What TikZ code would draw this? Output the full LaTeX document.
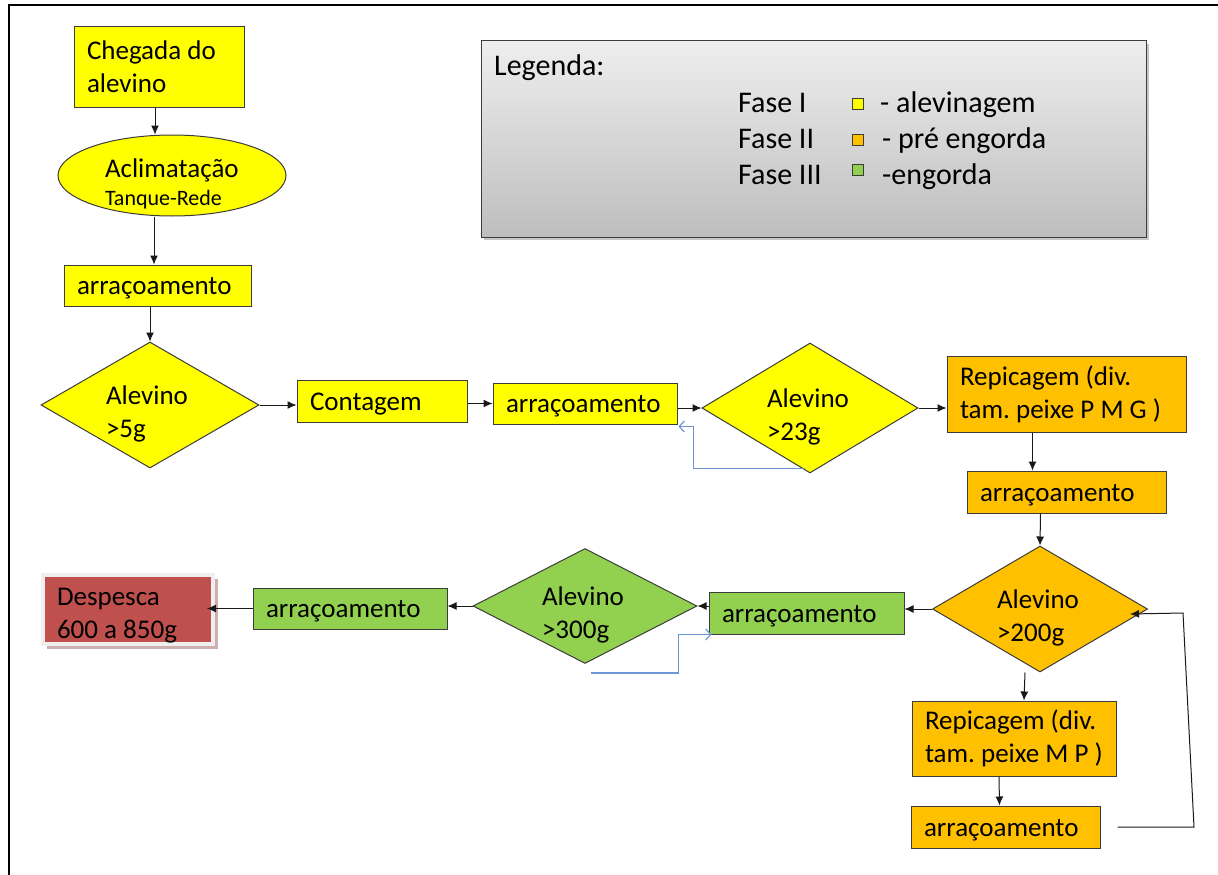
\documentclass[tikz,border=0pt]{standalone}
\usepackage{fontspec}
\setmainfont{Carlito}
\usetikzlibrary{shapes.geometric,arrows.meta,calc}
\definecolor{cyel}{RGB}{255,255,0}
\definecolor{corg}{RGB}{255,192,0}
\definecolor{cgrn}{RGB}{146,208,80}
\definecolor{cred}{RGB}{192,80,77}
\definecolor{cblu}{RGB}{110,150,210}
\definecolor{cbrd}{RGB}{60,60,60}
\definecolor{legtop}{RGB}{238,238,238}
\definecolor{legbot}{RGB}{190,190,190}
\definecolor{despshadow}{RGB}{205,175,175}
\definecolor{despedge}{RGB}{240,238,238}
\newcommand{\dnshift}[1]{\rule{0pt}{#1}}
\frenchspacing
\begin{document}
\begin{tikzpicture}[x=1pt,y=-1pt,
  base/.style={draw=cbrd, line width=1pt, font=\fontsize{27pt}{33pt}\selectfont, text=black,
    execute at begin node={\frenchspacing\spaceskip=0pt\xspaceskip=0pt\relax}},
  box/.style={base, rectangle, inner xsep=13pt, inner ysep=0pt, align=left},
  one/.style={text height=23pt, text depth=5pt},
  dia/.style={base, diamond, inner sep=-20pt, align=left},
  arr/.style={draw=black!90, line width=1pt, -{Latex[length=9pt,width=8pt]}},
  fb/.style={draw=cblu, line width=1.2pt, -{Straight Barb[length=5pt,width=11pt]}},
  legtext/.style={font=\fontsize{30pt}{36pt}\selectfont, text=black, inner sep=0pt, anchor=base west},
  sq/.style={rectangle, draw=cbrd, line width=0.8pt, minimum size=11pt, inner sep=0pt},
]
\useasboundingbox (0,0) rectangle (1218,875);
\fill[white] (0,0) rectangle (1218,875);
% frame
\draw[line width=2.5pt] (9,875) -- (9,5) -- (1218,5);

% legend
\fill[black!22] (484,44) rectangle (1149,240);
\node[draw=cbrd, line width=1pt, top color=legtop, bottom color=legbot, minimum width=665pt, minimum height=196pt, inner sep=0pt] (legend) at (813.5,139) {};
\node[legtext] (lgt) at (494,76) {Legenda:};
\node[legtext] (f1) at (738,112) {Fase I};
\node[legtext] (f2) at (738,148) {Fase II};
\node[legtext] (f3) at (738,184) {Fase III};
\node[sq, fill=cyel] (s1) at (858,104) {};
\node[sq, fill=corg] (s2) at (858,140) {};
\node[sq, fill=cgrn] (s3) at (858,170) {};
\node[legtext] (t1) at (880,112) {- alevinagem};
\node[legtext] (t2) at (882,148) {- pré engorda};
\node[legtext] (t3) at (882,184) {-engorda};

% column 1
\node[box, fill=cyel, text width=144pt, minimum height=80pt] (chegada) at (159,67) {Chegada do\\alevino};
\node[base, ellipse, fill=cyel, minimum width=228pt, minimum height=81pt, inner sep=-20pt, text width=134pt, align=left] (aclim) at (172,175.5)
  {\dnshift{36pt}Aclimatação\\[-5pt]{\fontsize{22pt}{27pt}\selectfont Tanque-Rede}};
\node[box, one, fill=cyel, text width=161pt, minimum height=41pt] (arr1) at (157.5,285.5) {arraçoamento};
\node[dia, fill=cyel, minimum width=218pt, minimum height=126pt, text width=88pt] (d1) at (150,405) {\dnshift{36pt}Alevino\\>5g};

% row 2
\node[box, one, fill=cyel, text width=144pt, minimum height=42pt] (contagem) at (382,401) {Contagem};
\node[box, one, fill=cyel, text width=158pt, minimum height=41pt] (arr2) at (585,403.5) {arraçoamento};
\node[dia, fill=cyel, minimum width=216pt, minimum height=130pt, text width=86pt] (d2) at (810,408) {\dnshift{36pt}Alevino\\>23g};
\node[box, fill=corg, text width=213pt, minimum height=76pt] (rep1) at (1066.5,394) {Repicagem (div.\\tam. peixe P M G )};
\node[box, one, fill=corg, text width=173pt, minimum height=42pt] (arr3) at (1066.5,492) {arraçoamento};

% row 3
\node[dia, fill=corg, minimum width=215pt, minimum height=126pt, text width=86pt] (d3) at (1040,609) {\dnshift{36pt}Alevino\\>200g};
\node[box, one, fill=cgrn, text width=169pt, minimum height=42pt] (arr4) at (806.5,613) {arraçoamento};
\node[dia, fill=cgrn, minimum width=224pt, minimum height=115pt, text width=86pt] (d4) at (585,606) {\dnshift{36pt}Alevino\\>300g};
\node[box, one, fill=cgrn, text width=168pt, minimum height=41pt] (arr6) at (350,608.5) {arraçoamento};
\fill[despshadow] (47,579) rectangle (218,649);
\node[box, fill=cred, draw=despedge, line width=4pt, text width=142pt, inner xsep=14pt, minimum height=69pt] (desp) at (128,609.5) {\dnshift{29pt}Despesca\\600 a 850g};

% bottom right
\node[box, fill=corg, text width=178pt, minimum height=75pt] (rep2) at (1014,738.5) {Repicagem (div.\\tam. peixe M P )};
\node[box, one, fill=corg, text width=163pt, minimum height=42pt] (arr5) at (1005.5,827) {arraçoamento};

% connectors
\coordinate (despin) at ([xshift=-8pt]desp.east);
\coordinate (lpA) at (1194,827);
\coordinate (lpB) at (1183,613);
\draw[arr] ([xshift=-4pt]chegada.south) -- ([xshift=-17pt]aclim.north);
\draw[arr] ([xshift=-18pt]aclim.south) -- ([xshift=-3.5pt]arr1.north);
\draw[arr] ([xshift=-7.5pt]arr1.south) -- (d1.north);
\draw[arr] (d1.east) -- (d1.east -| contagem.west);
\draw[arr] (arr2.west -| contagem.east) -- (arr2.west);
\draw[arr] (d2.west -| arr2.east) -- (d2.west);
\draw[arr] (d2.east) -- (d2.east -| rep1.west);
\draw[arr] ([xshift=-34pt]rep1.south) -- ([xshift=-34pt]arr3.north);
\draw[arr] ([xshift=-26pt]arr3.south) -- (d3.north);
\draw[arr] (d3.west) -- (d3.west -| arr4.east);
\draw[arr] (d4.east -| arr4.west) -- (d4.east);
\draw[arr] (d4.west) -- (d4.west -| arr6.east);
\draw[arr] (arr6.west) -- (arr6.west -| despin);
\draw[arr] ([xshift=-15pt]d3.south) -- ([xshift=10pt]rep2.north);
\draw[arr] ([xshift=-15pt]rep2.south) -- ([xshift=-6pt]arr5.north);
\draw[arr] ([xshift=17pt]arr5.east) -- (lpA) -- (lpB) -- ([xshift=-18pt,yshift=-5pt]d3.east);
\draw[fb] ([xshift=-5pt,yshift=5pt]d2.south) -| ([xshift=16pt,yshift=-2pt]arr2.south east) -- ([xshift=1pt,yshift=-2pt]arr2.south east);
\draw[fb] ([xshift=6pt,yshift=-9pt]d4.south) -| ([xshift=-30pt]arr4.south west) -- ([xshift=3pt]arr4.south west);
\end{tikzpicture}
\end{document}
